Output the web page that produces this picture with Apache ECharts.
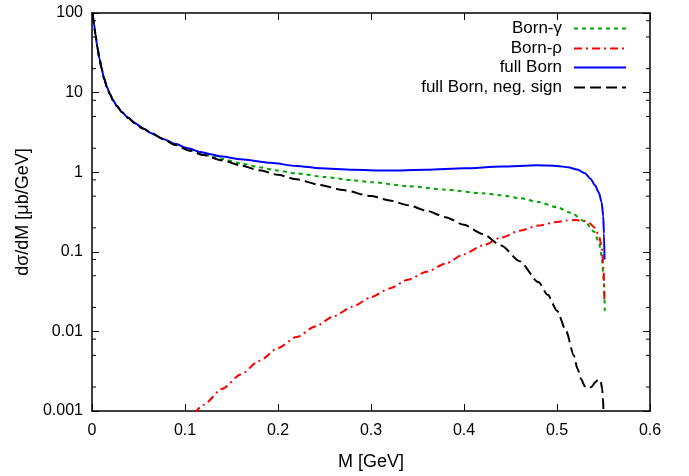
<!DOCTYPE html>
<html>
<head>
<meta charset="utf-8">
<script src="https://cdn.jsdelivr.net/npm/echarts@6/dist/echarts.min.js"></script>
<style>
html,body{margin:0;padding:0;background:#fff;}
#chart{width:689px;height:476px;}
</style>
</head>
<body>
<div id="chart"></div>
<script>
// ---- data ----
const seriesNames = ['Born-γ', 'Born-ρ', 'full Born', 'full Born, neg. sign'];

const xTickLabels = ['0', '0.1', '0.2', '0.3', '0.4', '0.5', '0.6'];
const yTickLabels = ['0.001', '0.01', '0.1', '1', '10', '100'];
const yMinorTickValues = [0.002,0.005,0.008,0.02,0.05,0.08,0.2,0.5,0.8,2,5,8,20,50,80];

// common steep part near M = 0 (all four curves except Born-ρ coincide there)
const lowM = [0.00075,0.00215,0.00377,0.00571,0.00807,0.01023,0.01292,0.01615,0.01938,0.02261,0.02691,0.03229,0.03875,0.04629,0.0549,0.0646,0.0764];
const lowV = [100,72.8,53.0,37.5,26.6,20.2,15.1,11.65,9.52,8.01,6.73,5.66,4.83,4.12,3.54,3.06,2.62];

const bornGammaM = lowM.concat([0.0893,0.1033,0.116,0.127,0.14,0.16,0.18,0.20,0.22,0.25,0.28,0.30,0.34,0.38,0.42,0.44,0.46,0.48,0.50,0.515,0.53,0.54,0.545,0.548,0.5505,0.5514]);
const bornGammaV = lowV.concat([2.25,1.95,1.74,1.60,1.46,1.29,1.15,1.047,0.966,0.871,0.794,0.75,0.668,0.603,0.543,0.513,0.473,0.422,0.363,0.309,0.24,0.178,0.132,0.089,0.042,0.018]);

const bornRhoM = [0.110,0.12,0.14,0.16,0.18,0.20,0.22,0.24,0.26,0.28,0.30,0.32,0.34,0.36,0.38,0.40,0.42,0.44,0.46,0.48,0.50,0.51,0.52,0.53,0.535,0.54,0.545,0.548,0.55,0.551];
const bornRhoV = [0.00093,0.0012,0.0019,0.00288,0.00427,0.00617,0.00851,0.0115,0.0155,0.0204,0.0269,0.0347,0.0447,0.0562,0.0708,0.0933,0.120,0.151,0.184,0.214,0.237,0.248,0.251,0.243,0.229,0.204,0.162,0.117,0.063,0.0234];

const fullBornM = lowM.concat([0.0893,0.1033,0.1163,0.127,0.14,0.16,0.1916,0.22,0.2454,0.28,0.317,0.36,0.40,0.44,0.4787,0.50,0.512,0.5217,0.53,0.536,0.541,0.545,0.548,0.5497,0.5505,0.5511]);
const fullBornV = lowV.concat([2.27,2.0,1.80,1.68,1.57,1.45,1.31,1.2,1.12,1.07,1.05,1.07,1.12,1.18,1.22,1.20,1.15,1.08,0.97,0.83,0.68,0.555,0.42,0.28,0.17,0.08]);

const negSignM = lowM.concat([0.0893,0.105,0.12,0.14,0.16,0.18,0.20,0.22,0.245,0.27,0.30,0.32,0.34,0.36,0.38,0.40,0.42,0.44,0.46,0.48,0.49,0.50,0.51,0.518,0.522,0.526,0.53,0.5335,0.537,0.541,0.544,0.5455,0.547,0.5485,0.5495,0.550,0.5505]);
const negSignV = lowV.concat([2.198,1.862,1.641,1.406,1.216,1.059,0.927,0.813,0.692,0.596,0.501,0.4416,0.3846,0.3273,0.2723,0.2188,0.1679,0.1202,0.0759,0.0417,0.0288,0.0182,0.01,0.00501,0.00339,0.00251,0.00204,0.00191,0.002,0.00229,0.00245,0.00248,0.00237,0.00191,0.00141,0.001,0.0005]);

// ---- chart ----
const FONT = 'Liberation Sans, Arial, Helvetica, sans-serif';
const pairs = (xs, ys) => xs.map((x, i) => [x, ys[i]]);

const chart = echarts.init(document.getElementById('chart'), null, {renderer: 'canvas'});

const legendRows = [20, 40, 59, 79];
const legends = seriesNames.map((n, i) => ({
  data: [n],
  right: 62,
  top: legendRows[i],
  orient: 'vertical',
  align: 'right',
  padding: 0,
  itemWidth: 52,
  itemHeight: 16,
  itemGap: 0,
  selectedMode: false,
  itemStyle: {opacity: 0},
  textStyle: {fontFamily: FONT, fontSize: 17, color: '#000', padding: [0, 7, 0, 0]}
}));

const axisLineStyle = {color: '#000', width: 1.5};

const option = {
  animation: false,
  backgroundColor: '#fff',
  grid: {left: 92, right: 39, top: 13, bottom: 64, containLabel: false},
  legend: legends,
  xAxis: [{
    type: 'value', min: 0, max: 0.6, interval: 0.1, position: 'bottom',
    name: 'M [GeV]', nameLocation: 'middle', nameGap: 42,
    nameTextStyle: {fontFamily: FONT, fontSize: 18, color: '#000'},
    axisLine: {show: true, onZero: false, lineStyle: axisLineStyle},
    axisTick: {show: true, inside: true, length: 7, lineStyle: {color: '#000', width: 1}},
    axisLabel: {fontFamily: FONT, fontSize: 16, color: '#000', margin: 12,
      formatter: (v) => xTickLabels[Math.round(v * 10)]},
    splitLine: {show: false}
  }, {
    type: 'value', min: 0, max: 0.6, interval: 0.1, position: 'top',
    axisLine: {show: true, onZero: false, lineStyle: axisLineStyle},
    axisTick: {show: true, inside: true, length: 7, lineStyle: {color: '#000', width: 1}},
    axisLabel: {show: false}, splitLine: {show: false}
  }],
  yAxis: [{
    type: 'log', logBase: 10, min: 0.001, max: 100, splitNumber: 5, position: 'left',
    name: 'dσ/dM [μb/GeV]', nameLocation: 'middle', nameGap: 51, nameRotate: 90,
    nameTextStyle: {fontFamily: FONT, fontSize: 18, color: '#000'},
    axisLine: {show: true, onZero: false, lineStyle: axisLineStyle},
    axisTick: {show: true, inside: true, length: 7, lineStyle: {color: '#000', width: 1}},
    axisLabel: {fontFamily: FONT, fontSize: 16, color: '#000', margin: 9,
      formatter: (v) => yTickLabels[Math.round(Math.log10(v)) + 3]},
    splitLine: {show: false}
  }, {
    type: 'log', logBase: 10, min: 0.001, max: 100, splitNumber: 5, position: 'right',
    axisLine: {show: true, onZero: false, lineStyle: axisLineStyle},
    axisTick: {show: true, inside: true, length: 7, lineStyle: {color: '#000', width: 1}},
    axisLabel: {show: false}, splitLine: {show: false}
  }],
  series: [
    {
      name: 'minor ticks', type: 'custom', silent: true, z: 10,
      data: yMinorTickValues.map(v => [0, v]),
      renderItem: function (params, api) {
        const cs = params.coordSys;
        const y = api.coord([0, api.value(1)])[1];
        const st = {stroke: '#000', lineWidth: 1};
        return {type: 'group', children: [
          {type: 'line', shape: {x1: cs.x, y1: y, x2: cs.x + 4, y2: y}, style: st},
          {type: 'line', shape: {x1: cs.x + cs.width - 4, y1: y, x2: cs.x + cs.width, y2: y}, style: st}
        ]};
      }
    },
    {
      name: seriesNames[0], type: 'line', data: pairs(bornGammaM, bornGammaV),
      showSymbol: false, symbol: 'none', smooth: 0.25, smoothMonotone: 'x', clip: true,
      color: '#00a600',
      lineStyle: {color: '#00a600', width: 2, type: [4, 4]}
    },
    {
      name: seriesNames[1], type: 'line', data: pairs(bornRhoM, bornRhoV),
      showSymbol: false, symbol: 'none', smooth: 0.25, smoothMonotone: 'x', clip: true,
      color: '#ff0000',
      lineStyle: {color: '#ff0000', width: 2, type: [8, 4, 2, 4]}
    },
    {
      name: seriesNames[2], type: 'line', data: pairs(fullBornM, fullBornV),
      showSymbol: false, symbol: 'none', smooth: 0.25, smoothMonotone: 'x', clip: true,
      color: '#0000ff',
      lineStyle: {color: '#0000ff', width: 2, type: 'solid'}
    },
    {
      name: seriesNames[3], type: 'line', data: pairs(negSignM, negSignV),
      showSymbol: false, symbol: 'none', smooth: 0.25, smoothMonotone: 'x', clip: true,
      color: '#000000',
      lineStyle: {color: '#000000', width: 2, type: [11, 5]}
    }
  ]
};
chart.setOption(option);
</script>
</body>
</html>
